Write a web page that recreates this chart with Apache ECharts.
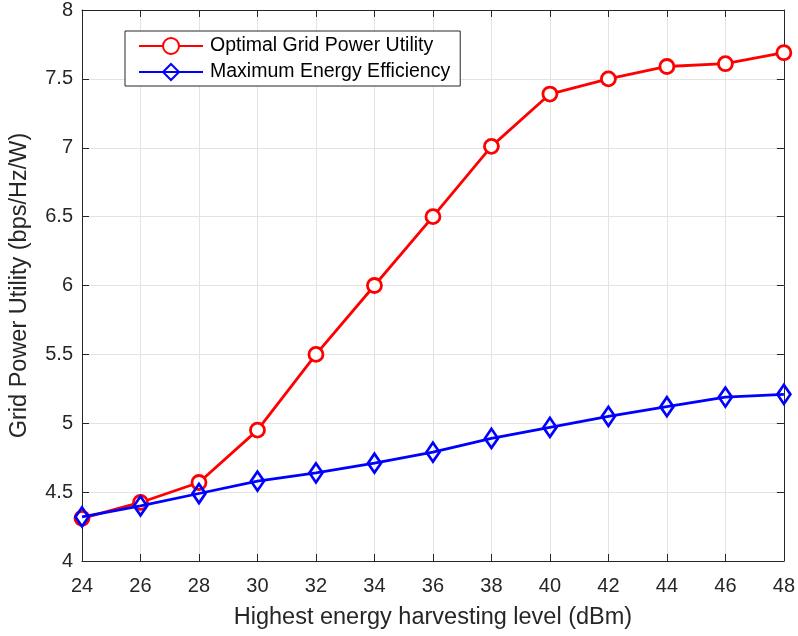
<!DOCTYPE html>
<html>
<head>
<meta charset="utf-8">
<script src="https://cdn.jsdelivr.net/npm/echarts@6/dist/echarts.min.js"></script>
<style>
html,body{margin:0;padding:0;background:#fff;}
#chart{width:798px;height:636px;}
</style>
</head>
<body>
<div id="chart"></div>
<script>
// Harvesting levels (dBm)
const levels = [24, 26, 28, 30, 32, 34, 36, 38, 40, 42, 44, 46, 48];
// Grid power utility (bps/Hz/W)
const optimalUtility = [4.31, 4.425, 4.57, 4.95, 5.50, 6.00, 6.50, 7.01, 7.39, 7.50, 7.59, 7.61, 7.69];
const maxEfficiency = [4.32, 4.40, 4.49, 4.58, 4.64, 4.71, 4.79, 4.89, 4.97, 5.05, 5.12, 5.19, 5.21];
const seriesNames = ['Optimal Grid Power Utility', 'Maximum Energy Efficiency'];

const FONT = 'Liberation Sans, Arial, Helvetica, sans-serif';
const TEXT = '#262626';
const AXIS = '#262626';

const chart = echarts.init(document.getElementById('chart'), null, {renderer: 'canvas'});

const pairs = arr => levels.map((x, i) => [x, arr[i]]);

const hiddenAxisCommon = {
  axisLine: {show: true, lineStyle: {color: AXIS, width: 1}},
  axisTick: {show: true, inside: true, length: 7, lineStyle: {color: AXIS}},
  axisLabel: {show: false},
  splitLine: {show: false}
};

chart.setOption({
  animation: false,
  backgroundColor: '#fff',
  grid: {left: 81, right: 14, top: 6, bottom: 75, containLabel: false},
  legend: {
    orient: 'vertical',
    left: 125,
    top: 31,
    padding: [5, 10, 4, 13],
    itemGap: 6,
    itemWidth: 64,
    itemHeight: 20,
    backgroundColor: '#fff',
    borderColor: '#262626',
    borderWidth: 1,
    borderRadius: 0,
    textStyle: {fontFamily: FONT, fontSize: 19.5, color: '#000', padding: [0, 0, 0, 2]},
    data: seriesNames
  },
  xAxis: [{
    type: 'value',
    min: 24, max: 48, interval: 2,
    name: 'Highest energy harvesting level (dBm)',
    nameLocation: 'middle',
    nameGap: 45,
    nameTextStyle: {fontFamily: FONT, fontSize: 23.5, color: TEXT},
    axisLine: {show: true, lineStyle: {color: AXIS, width: 1}},
    axisTick: {show: true, inside: true, length: 7, lineStyle: {color: AXIS}},
    axisLabel: {fontFamily: FONT, fontSize: 20, color: TEXT, margin: 15},
    splitLine: {show: true, lineStyle: {color: '#e3e3e3', width: 1}}
  }, Object.assign({
    type: 'value', position: 'top', min: 24, max: 48, interval: 2
  }, hiddenAxisCommon)],
  yAxis: [{
    type: 'value',
    min: 4, max: 8, interval: 0.5,
    name: 'Grid Power Utility (bps/Hz/W)',
    nameLocation: 'middle',
    nameGap: 50,
    nameTextStyle: {fontFamily: FONT, fontSize: 23.5, color: TEXT},
    axisLine: {show: true, lineStyle: {color: AXIS, width: 1}},
    axisTick: {show: true, inside: true, length: 7, lineStyle: {color: AXIS}},
    axisLabel: {fontFamily: FONT, fontSize: 20, color: TEXT, margin: 9,
      formatter: v => String(v)},
    splitLine: {show: true, lineStyle: {color: '#e3e3e3', width: 1}}
  }, Object.assign({
    type: 'value', position: 'right', min: 4, max: 8, interval: 0.5
  }, hiddenAxisCommon)],
  series: [{
    name: seriesNames[0],
    type: 'line',
    data: pairs(optimalUtility),
    color: '#ff0000',
    symbol: 'circle',
    symbolSize: 14,
    showAllSymbol: true,
    lineStyle: {color: '#ff0000', width: 2.8},
    itemStyle: {color: '#fff', borderColor: '#ff0000', borderWidth: 2.8},
    z: 2
  }, {
    name: seriesNames[1],
    type: 'line',
    data: pairs(maxEfficiency),
    color: '#0000ff',
    symbol: 'diamond',
    symbolSize: [13, 19],
    showAllSymbol: true,
    lineStyle: {color: '#0000ff', width: 2.8},
    itemStyle: {color: 'rgba(255,255,255,0)', borderColor: '#0000ff', borderWidth: 2.8},
    z: 3
  }]
});
</script>
</body>
</html>
